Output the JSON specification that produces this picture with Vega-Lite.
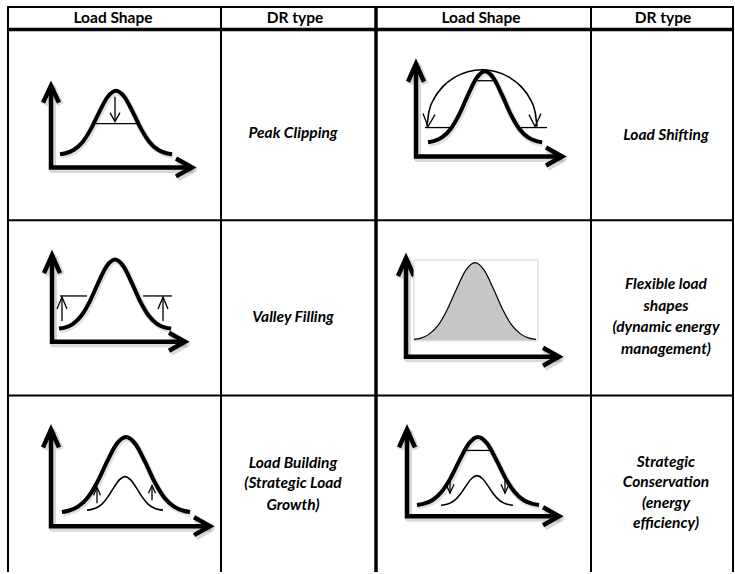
{
"$schema": "https://vega.github.io/schema/vega-lite/v6.json",
"width": 735, "height": 574, "padding": 0,
"autosize": {"type": "fit", "contains": "padding"},
"background": "white",
"config": {"view": {"stroke": null}},
"datasets": {
"grid": [
{"k":"thin","x":8,"y":7,"x2":734,"y2":7},
{"k":"thin","x":8,"y":6,"x2":8,"y2":574},
{"k":"thin","x":733,"y":6,"x2":733,"y2":574},
{"k":"thin","x":221,"y":7,"x2":221,"y2":574},
{"k":"thin","x":591,"y":7,"x2":591,"y2":574},
{"k":"thin","x":8,"y":221,"x2":733,"y2":221},
{"k":"thin","x":8,"y":397,"x2":733,"y2":397},
{"k":"thick","x":8,"y":29.5,"x2":733,"y2":29.5},
{"k":"thick","x":376,"y":7,"x2":376,"y2":574}
],
"labels": [
{"k":"head","t":"Load Shape","x":113,"y":18.5},
{"k":"head","t":"DR type","x":295,"y":18.5},
{"k":"head","t":"Load Shape","x":481,"y":18.5},
{"k":"head","t":"DR type","x":663,"y":18.5},
{"k":"dr","t":"Peak Clipping","x":293,"y":133},
{"k":"dr","t":"Load Shifting","x":666,"y":135},
{"k":"dr","t":"Valley Filling","x":293,"y":318},
{"k":"dr","t":"Flexible load","x":666,"y":285},
{"k":"dr","t":"shapes","x":666,"y":306.7},
{"k":"dr","t":"(dynamic energy","x":666,"y":328.3},
{"k":"dr","t":"management)","x":666,"y":350},
{"k":"dr","t":"Load Building","x":293,"y":465},
{"k":"dr","t":"(Strategic Load","x":293,"y":485},
{"k":"dr","t":"Growth)","x":293,"y":506.7},
{"k":"dr","t":"Strategic","x":666,"y":463.3},
{"k":"dr","t":"Conservation","x":666,"y":483.3},
{"k":"dr","t":"(energy","x":666,"y":505},
{"k":"dr","t":"efficiency)","x":666,"y":525}
],
"box": [{"x":414,"y":261,"x2":538,"y2":342}],
"axes": [
{"id":"a1","i":0,"x":51,"y":86},{"id":"a1","i":1,"x":51,"y":168},{"id":"a1","i":2,"x":192,"y":168},
{"id":"ya1","i":0,"x":43,"y":103},{"id":"ya1","i":1,"x":51,"y":86},{"id":"ya1","i":2,"x":59,"y":103},
{"id":"xa1","i":0,"x":176,"y":159},{"id":"xa1","i":1,"x":192,"y":168},{"id":"xa1","i":2,"x":176,"y":177},
{"id":"a2","i":0,"x":416,"y":64},{"id":"a2","i":1,"x":416,"y":157},{"id":"a2","i":2,"x":562,"y":157},
{"id":"ya2","i":0,"x":408,"y":82},{"id":"ya2","i":1,"x":416,"y":64},{"id":"ya2","i":2,"x":424,"y":82},
{"id":"xa2","i":0,"x":546,"y":148},{"id":"xa2","i":1,"x":562,"y":157},{"id":"xa2","i":2,"x":546,"y":166},
{"id":"a3","i":0,"x":52,"y":256},{"id":"a3","i":1,"x":52,"y":343},{"id":"a3","i":2,"x":185,"y":343},
{"id":"ya3","i":0,"x":44,"y":274},{"id":"ya3","i":1,"x":52,"y":256},{"id":"ya3","i":2,"x":60,"y":274},
{"id":"xa3","i":0,"x":169,"y":334},{"id":"xa3","i":1,"x":185,"y":343},{"id":"xa3","i":2,"x":169,"y":352},
{"id":"a4","i":0,"x":406,"y":259},{"id":"a4","i":1,"x":406,"y":358},{"id":"a4","i":2,"x":559,"y":358},
{"id":"ya4","i":0,"x":398,"y":277},{"id":"ya4","i":1,"x":406,"y":259},{"id":"ya4","i":2,"x":414,"y":277},
{"id":"xa4","i":0,"x":543,"y":349},{"id":"xa4","i":1,"x":559,"y":358},{"id":"xa4","i":2,"x":543,"y":367},
{"id":"a5","i":0,"x":51,"y":431},{"id":"a5","i":1,"x":51,"y":528},{"id":"a5","i":2,"x":210,"y":528},
{"id":"ya5","i":0,"x":43,"y":449},{"id":"ya5","i":1,"x":51,"y":431},{"id":"ya5","i":2,"x":59,"y":449},
{"id":"xa5","i":0,"x":194,"y":519},{"id":"xa5","i":1,"x":210,"y":528},{"id":"xa5","i":2,"x":194,"y":537},
{"id":"a6","i":0,"x":407,"y":431},{"id":"a6","i":1,"x":407,"y":518},{"id":"a6","i":2,"x":559,"y":518},
{"id":"ya6","i":0,"x":399,"y":449},{"id":"ya6","i":1,"x":407,"y":431},{"id":"ya6","i":2,"x":415,"y":449},
{"id":"xa6","i":0,"x":543,"y":509},{"id":"xa6","i":1,"x":559,"y":518},{"id":"xa6","i":2,"x":543,"y":527}
],
"thick": [
{"id":"c1","i":0,"x":60,"y":154.8},{"id":"c1","i":1,"x":65.6,"y":153.8},{"id":"c1","i":2,"x":73.9,"y":150.3},{"id":"c1","i":3,"x":82.4,"y":142.7},{"id":"c1","i":4,"x":90.8,"y":129.6},{"id":"c1","i":5,"x":99.2,"y":112.5},{"id":"c1","i":6,"x":107.6,"y":97.2},{"id":"c1","i":7,"x":116,"y":91},{"id":"c1","i":8,"x":124.4,"y":97.2},{"id":"c1","i":9,"x":132.8,"y":112.5},{"id":"c1","i":10,"x":141.2,"y":129.6},{"id":"c1","i":11,"x":149.6,"y":142.7},{"id":"c1","i":12,"x":158,"y":150.3},{"id":"c1","i":13,"x":166.4,"y":153.8},{"id":"c1","i":14,"x":172,"y":154.8},
{"id":"c2","i":0,"x":428,"y":142.7},{"id":"c2","i":1,"x":433.7,"y":141.6},{"id":"c2","i":2,"x":442.25,"y":137.7},{"id":"c2","i":3,"x":450.8,"y":129.2},{"id":"c2","i":4,"x":459.35,"y":114.6},{"id":"c2","i":5,"x":467.9,"y":95.5},{"id":"c2","i":6,"x":476.45,"y":78.4},{"id":"c2","i":7,"x":485,"y":71.5},{"id":"c2","i":8,"x":493.55,"y":78.4},{"id":"c2","i":9,"x":502.1,"y":95.5},{"id":"c2","i":10,"x":510.65,"y":114.6},{"id":"c2","i":11,"x":519.2,"y":129.2},{"id":"c2","i":12,"x":527.75,"y":137.7},{"id":"c2","i":13,"x":536.3,"y":141.6},{"id":"c2","i":14,"x":542,"y":142.7},
{"id":"c3","i":0,"x":59,"y":329.7},{"id":"c3","i":1,"x":64.6,"y":328.7},{"id":"c3","i":2,"x":73,"y":324.9},{"id":"c3","i":3,"x":81.4,"y":316.6},{"id":"c3","i":4,"x":89.8,"y":302.4},{"id":"c3","i":5,"x":98.2,"y":283.8},{"id":"c3","i":6,"x":106.6,"y":267.2},{"id":"c3","i":7,"x":115,"y":260.5},{"id":"c3","i":8,"x":123.4,"y":267.2},{"id":"c3","i":9,"x":131.8,"y":283.8},{"id":"c3","i":10,"x":140.2,"y":302.4},{"id":"c3","i":11,"x":148.6,"y":316.6},{"id":"c3","i":12,"x":157,"y":324.9},{"id":"c3","i":13,"x":165.4,"y":328.7},{"id":"c3","i":14,"x":171,"y":329.7},
{"id":"c5","i":0,"x":62,"y":513.7},{"id":"c5","i":1,"x":68.4,"y":512.5},{"id":"c5","i":2,"x":78,"y":508.4},{"id":"c5","i":3,"x":87.6,"y":499.5},{"id":"c5","i":4,"x":97.2,"y":484},{"id":"c5","i":5,"x":106.8,"y":463.8},{"id":"c5","i":6,"x":116.4,"y":445.8},{"id":"c5","i":7,"x":126,"y":438.5},{"id":"c5","i":8,"x":135.6,"y":445.8},{"id":"c5","i":9,"x":145.2,"y":463.8},{"id":"c5","i":10,"x":154.8,"y":484},{"id":"c5","i":11,"x":164.4,"y":499.5},{"id":"c5","i":12,"x":174,"y":508.4},{"id":"c5","i":13,"x":183.6,"y":512.5},{"id":"c5","i":14,"x":190,"y":513.7},
{"id":"c6","i":0,"x":417,"y":506.7},{"id":"c6","i":1,"x":423.1,"y":505.7},{"id":"c6","i":2,"x":432.25,"y":502},{"id":"c6","i":3,"x":441.4,"y":493.8},{"id":"c6","i":4,"x":450.55,"y":479.8},{"id":"c6","i":5,"x":459.7,"y":461.5},{"id":"c6","i":6,"x":468.85,"y":445.1},{"id":"c6","i":7,"x":478,"y":438.5},{"id":"c6","i":8,"x":487.15,"y":445.1},{"id":"c6","i":9,"x":496.3,"y":461.5},{"id":"c6","i":10,"x":505.45,"y":479.8},{"id":"c6","i":11,"x":514.6,"y":493.8},{"id":"c6","i":12,"x":523.75,"y":502},{"id":"c6","i":13,"x":532.9,"y":505.7},{"id":"c6","i":14,"x":539,"y":506.7}
],
"thin": [
{"id":"arc","i":0,"x":427,"y":127},{"id":"arc","i":1,"x":428.9,"y":112.2},{"id":"arc","i":2,"x":434.4,"y":98.5},{"id":"arc","i":3,"x":443.1,"y":86.7},{"id":"arc","i":4,"x":454.5,"y":77.6},{"id":"arc","i":5,"x":467.8,"y":71.9},{"id":"arc","i":6,"x":482,"y":70},{"id":"arc","i":7,"x":496.2,"y":71.9},{"id":"arc","i":8,"x":509.5,"y":77.6},{"id":"arc","i":9,"x":520.9,"y":86.7},{"id":"arc","i":10,"x":529.6,"y":98.5},{"id":"arc","i":11,"x":535.1,"y":112.2},{"id":"arc","i":12,"x":537,"y":127},
{"id":"s5","i":0,"x":87,"y":511.9},{"id":"s5","i":1,"x":90.8,"y":511.4},{"id":"s5","i":2,"x":96.5,"y":509.6},{"id":"s5","i":3,"x":102.2,"y":505.6},{"id":"s5","i":4,"x":107.9,"y":498.6},{"id":"s5","i":5,"x":113.6,"y":489.6},{"id":"s5","i":6,"x":119.3,"y":481.6},{"id":"s5","i":7,"x":125,"y":478.3},{"id":"s5","i":8,"x":130.7,"y":481.6},{"id":"s5","i":9,"x":136.4,"y":489.6},{"id":"s5","i":10,"x":142.1,"y":498.6},{"id":"s5","i":11,"x":147.8,"y":505.6},{"id":"s5","i":12,"x":153.5,"y":509.6},{"id":"s5","i":13,"x":159.2,"y":511.4},{"id":"s5","i":14,"x":163,"y":511.9},
{"id":"s6","i":0,"x":441,"y":507},{"id":"s6","i":1,"x":444.6,"y":506.5},{"id":"s6","i":2,"x":450,"y":504.9},{"id":"s6","i":3,"x":455.4,"y":501.4},{"id":"s6","i":4,"x":460.8,"y":495.2},{"id":"s6","i":5,"x":466.2,"y":487.3},{"id":"s6","i":6,"x":471.6,"y":480.2},{"id":"s6","i":7,"x":477,"y":477.3},{"id":"s6","i":8,"x":482.4,"y":480.2},{"id":"s6","i":9,"x":487.8,"y":487.3},{"id":"s6","i":10,"x":493.2,"y":495.2},{"id":"s6","i":11,"x":498.6,"y":501.4},{"id":"s6","i":12,"x":504,"y":504.9},{"id":"s6","i":13,"x":509.4,"y":506.5},{"id":"s6","i":14,"x":513,"y":507}
],
"fill": [
{"id":"g4","i":0,"x":414,"y":340.6,"b":341.5},{"id":"g4","i":1,"x":420.1,"y":339.5,"b":341.5},{"id":"g4","i":2,"x":429.25,"y":335.3,"b":341.5},{"id":"g4","i":3,"x":438.4,"y":326.1,"b":341.5},{"id":"g4","i":4,"x":447.55,"y":310.1,"b":341.5},{"id":"g4","i":5,"x":456.7,"y":289.5,"b":341.5},{"id":"g4","i":6,"x":465.85,"y":271,"b":341.5},{"id":"g4","i":7,"x":475,"y":263.5,"b":341.5},{"id":"g4","i":8,"x":484.15,"y":271,"b":341.5},{"id":"g4","i":9,"x":493.3,"y":289.5,"b":341.5},{"id":"g4","i":10,"x":502.45,"y":310.1,"b":341.5},{"id":"g4","i":11,"x":511.6,"y":326.1,"b":341.5},{"id":"g4","i":12,"x":520.75,"y":335.3,"b":341.5},{"id":"g4","i":13,"x":529.9,"y":339.5,"b":341.5},{"id":"g4","i":14,"x":536,"y":340.6,"b":341.5}
],
"straight": [
{"id":"h1","i":0,"x":96,"y":124},{"id":"h1","i":1,"x":138,"y":124},
{"id":"d1s","i":0,"x":115,"y":97},{"id":"d1s","i":1,"x":115,"y":122},
{"id":"d1h","i":0,"x":110,"y":113},{"id":"d1h","i":1,"x":115,"y":122},{"id":"d1h","i":2,"x":120,"y":113},
{"id":"h2t","i":0,"x":475,"y":81},{"id":"h2t","i":1,"x":494,"y":81},
{"id":"h2l","i":0,"x":425,"y":128},{"id":"h2l","i":1,"x":453,"y":128},
{"id":"h2r","i":0,"x":521,"y":128},{"id":"h2r","i":1,"x":547,"y":128},
{"id":"d2l","i":0,"x":423,"y":114},{"id":"d2l","i":1,"x":428,"y":127},{"id":"d2l","i":2,"x":435,"y":115},
{"id":"d2r","i":0,"x":529,"y":115},{"id":"d2r","i":1,"x":535,"y":127},{"id":"d2r","i":2,"x":541,"y":114},
{"id":"h3l","i":0,"x":60,"y":297},{"id":"h3l","i":1,"x":87,"y":297},
{"id":"h3r","i":0,"x":143,"y":297},{"id":"h3r","i":1,"x":172,"y":297},
{"id":"u3ls","i":0,"x":62,"y":322},{"id":"u3ls","i":1,"x":62,"y":298},
{"id":"u3lh","i":0,"x":57,"y":310},{"id":"u3lh","i":1,"x":62,"y":298},{"id":"u3lh","i":2,"x":67,"y":310},
{"id":"u3rs","i":0,"x":163,"y":322},{"id":"u3rs","i":1,"x":163,"y":298},
{"id":"u3rh","i":0,"x":158,"y":310},{"id":"u3rh","i":1,"x":163,"y":298},{"id":"u3rh","i":2,"x":168,"y":310},
{"id":"u5ls","i":0,"x":97,"y":505},{"id":"u5ls","i":1,"x":97,"y":490},
{"id":"u5lh","i":0,"x":93.5,"y":497},{"id":"u5lh","i":1,"x":97,"y":489},{"id":"u5lh","i":2,"x":100.5,"y":497},
{"id":"u5rs","i":0,"x":152,"y":502},{"id":"u5rs","i":1,"x":152,"y":488},
{"id":"u5rh","i":0,"x":148.5,"y":495},{"id":"u5rh","i":1,"x":152,"y":487},{"id":"u5rh","i":2,"x":155.5,"y":495},
{"id":"h6","i":0,"x":465,"y":452},{"id":"h6","i":1,"x":490,"y":452},
{"id":"d6ls","i":0,"x":450,"y":478},{"id":"d6ls","i":1,"x":450,"y":495},
{"id":"d6lh","i":0,"x":446,"y":486},{"id":"d6lh","i":1,"x":450,"y":495},{"id":"d6lh","i":2,"x":454,"y":486},
{"id":"d6rs","i":0,"x":505,"y":478},{"id":"d6rs","i":1,"x":505,"y":495},
{"id":"d6rh","i":0,"x":501,"y":486},{"id":"d6rh","i":1,"x":505,"y":495},{"id":"d6rh","i":2,"x":509,"y":486}
]
},
"layer": [
{"data":{"name":"grid"},"transform":[{"filter":"datum.k=='thin'"}],
 "mark":{"type":"rule","color":"black","strokeWidth":2},
 "encoding":{"x":{"field":"x","type":"quantitative","scale":{"domain":[0,735],"nice":false,"zero":false},"axis":null},
  "y":{"field":"y","type":"quantitative","scale":{"domain":[0,574],"nice":false,"zero":false,"reverse":true},"axis":null},
  "x2":{"field":"x2"},"y2":{"field":"y2"}}},
{"data":{"name":"grid"},"transform":[{"filter":"datum.k=='thick'"}],
 "mark":{"type":"rule","color":"black","strokeWidth":3.5},
 "encoding":{"x":{"field":"x","type":"quantitative","axis":null},"y":{"field":"y","type":"quantitative","axis":null},
  "x2":{"field":"x2"},"y2":{"field":"y2"}}},
{"data":{"name":"labels"},"transform":[{"filter":"datum.k=='head'"}],
 "mark":{"type":"text","font":"Lato","fontWeight":"bold","fontSize":15.5,"color":"black","align":"center","baseline":"middle"},
 "encoding":{"x":{"field":"x","type":"quantitative","axis":null},"y":{"field":"y","type":"quantitative","axis":null},"text":{"field":"t"}}},
{"data":{"name":"labels"},"transform":[{"filter":"datum.k=='dr'"}],
 "mark":{"type":"text","font":"Lato","fontWeight":"bold","fontStyle":"italic","fontSize":15.5,"color":"black","align":"center","baseline":"middle"},
 "encoding":{"x":{"field":"x","type":"quantitative","axis":null},"y":{"field":"y","type":"quantitative","axis":null},"text":{"field":"t"}}},
{"data":{"name":"axes"},
 "mark":{"type":"line","color":"black","strokeWidth":7,"opacity":0.15,"xOffset":1.5,"yOffset":2,"strokeJoin":"round"},
 "encoding":{"x":{"field":"x","type":"quantitative","axis":null},"y":{"field":"y","type":"quantitative","axis":null},"detail":{"field":"id"},"order":{"field":"i"}}},
{"data":{"name":"axes"},
 "mark":{"type":"line","color":"black","strokeWidth":4.5,"strokeJoin":"miter"},
 "encoding":{"x":{"field":"x","type":"quantitative","axis":null},"y":{"field":"y","type":"quantitative","axis":null},"detail":{"field":"id"},"order":{"field":"i"}}},
{"data":{"name":"box"},
 "mark":{"type":"rect","fill":"white","stroke":"#d4d4d4","strokeWidth":1},
 "encoding":{"x":{"field":"x","type":"quantitative","axis":null},"y":{"field":"y","type":"quantitative","axis":null},"x2":{"field":"x2"},"y2":{"field":"y2"}}},
{"data":{"name":"fill"},
 "mark":{"type":"area","fill":"#c6c6c6","fillOpacity":1,"interpolate":"monotone","orient":"vertical"},
 "encoding":{"x":{"field":"x","type":"quantitative","axis":null},"y":{"field":"y","type":"quantitative","axis":null,"stack":null},"y2":{"field":"b"}}},
{"data":{"name":"fill"},
 "mark":{"type":"line","color":"black","strokeWidth":1.2,"interpolate":"monotone"},
 "encoding":{"x":{"field":"x","type":"quantitative","axis":null},"y":{"field":"y","type":"quantitative","axis":null},"detail":{"field":"id"},"order":{"field":"i"}}},
{"data":{"name":"thick"},
 "mark":{"type":"line","color":"black","strokeWidth":6,"opacity":0.12,"xOffset":1,"yOffset":1.5,"interpolate":"monotone"},
 "encoding":{"x":{"field":"x","type":"quantitative","axis":null},"y":{"field":"y","type":"quantitative","axis":null},"detail":{"field":"id"},"order":{"field":"i"}}},
{"data":{"name":"thick"},
 "mark":{"type":"line","color":"black","strokeWidth":4,"interpolate":"monotone"},
 "encoding":{"x":{"field":"x","type":"quantitative","axis":null},"y":{"field":"y","type":"quantitative","axis":null},"detail":{"field":"id"},"order":{"field":"i"}}},
{"data":{"name":"thin"},
 "mark":{"type":"line","color":"black","strokeWidth":1.6,"interpolate":"monotone"},
 "encoding":{"x":{"field":"x","type":"quantitative","axis":null},"y":{"field":"y","type":"quantitative","axis":null},"detail":{"field":"id"},"order":{"field":"i"}}},
{"data":{"name":"straight"},
 "mark":{"type":"line","color":"black","strokeWidth":1.3},
 "encoding":{"x":{"field":"x","type":"quantitative","axis":null},"y":{"field":"y","type":"quantitative","axis":null},"detail":{"field":"id"},"order":{"field":"i"}}}
]
}
